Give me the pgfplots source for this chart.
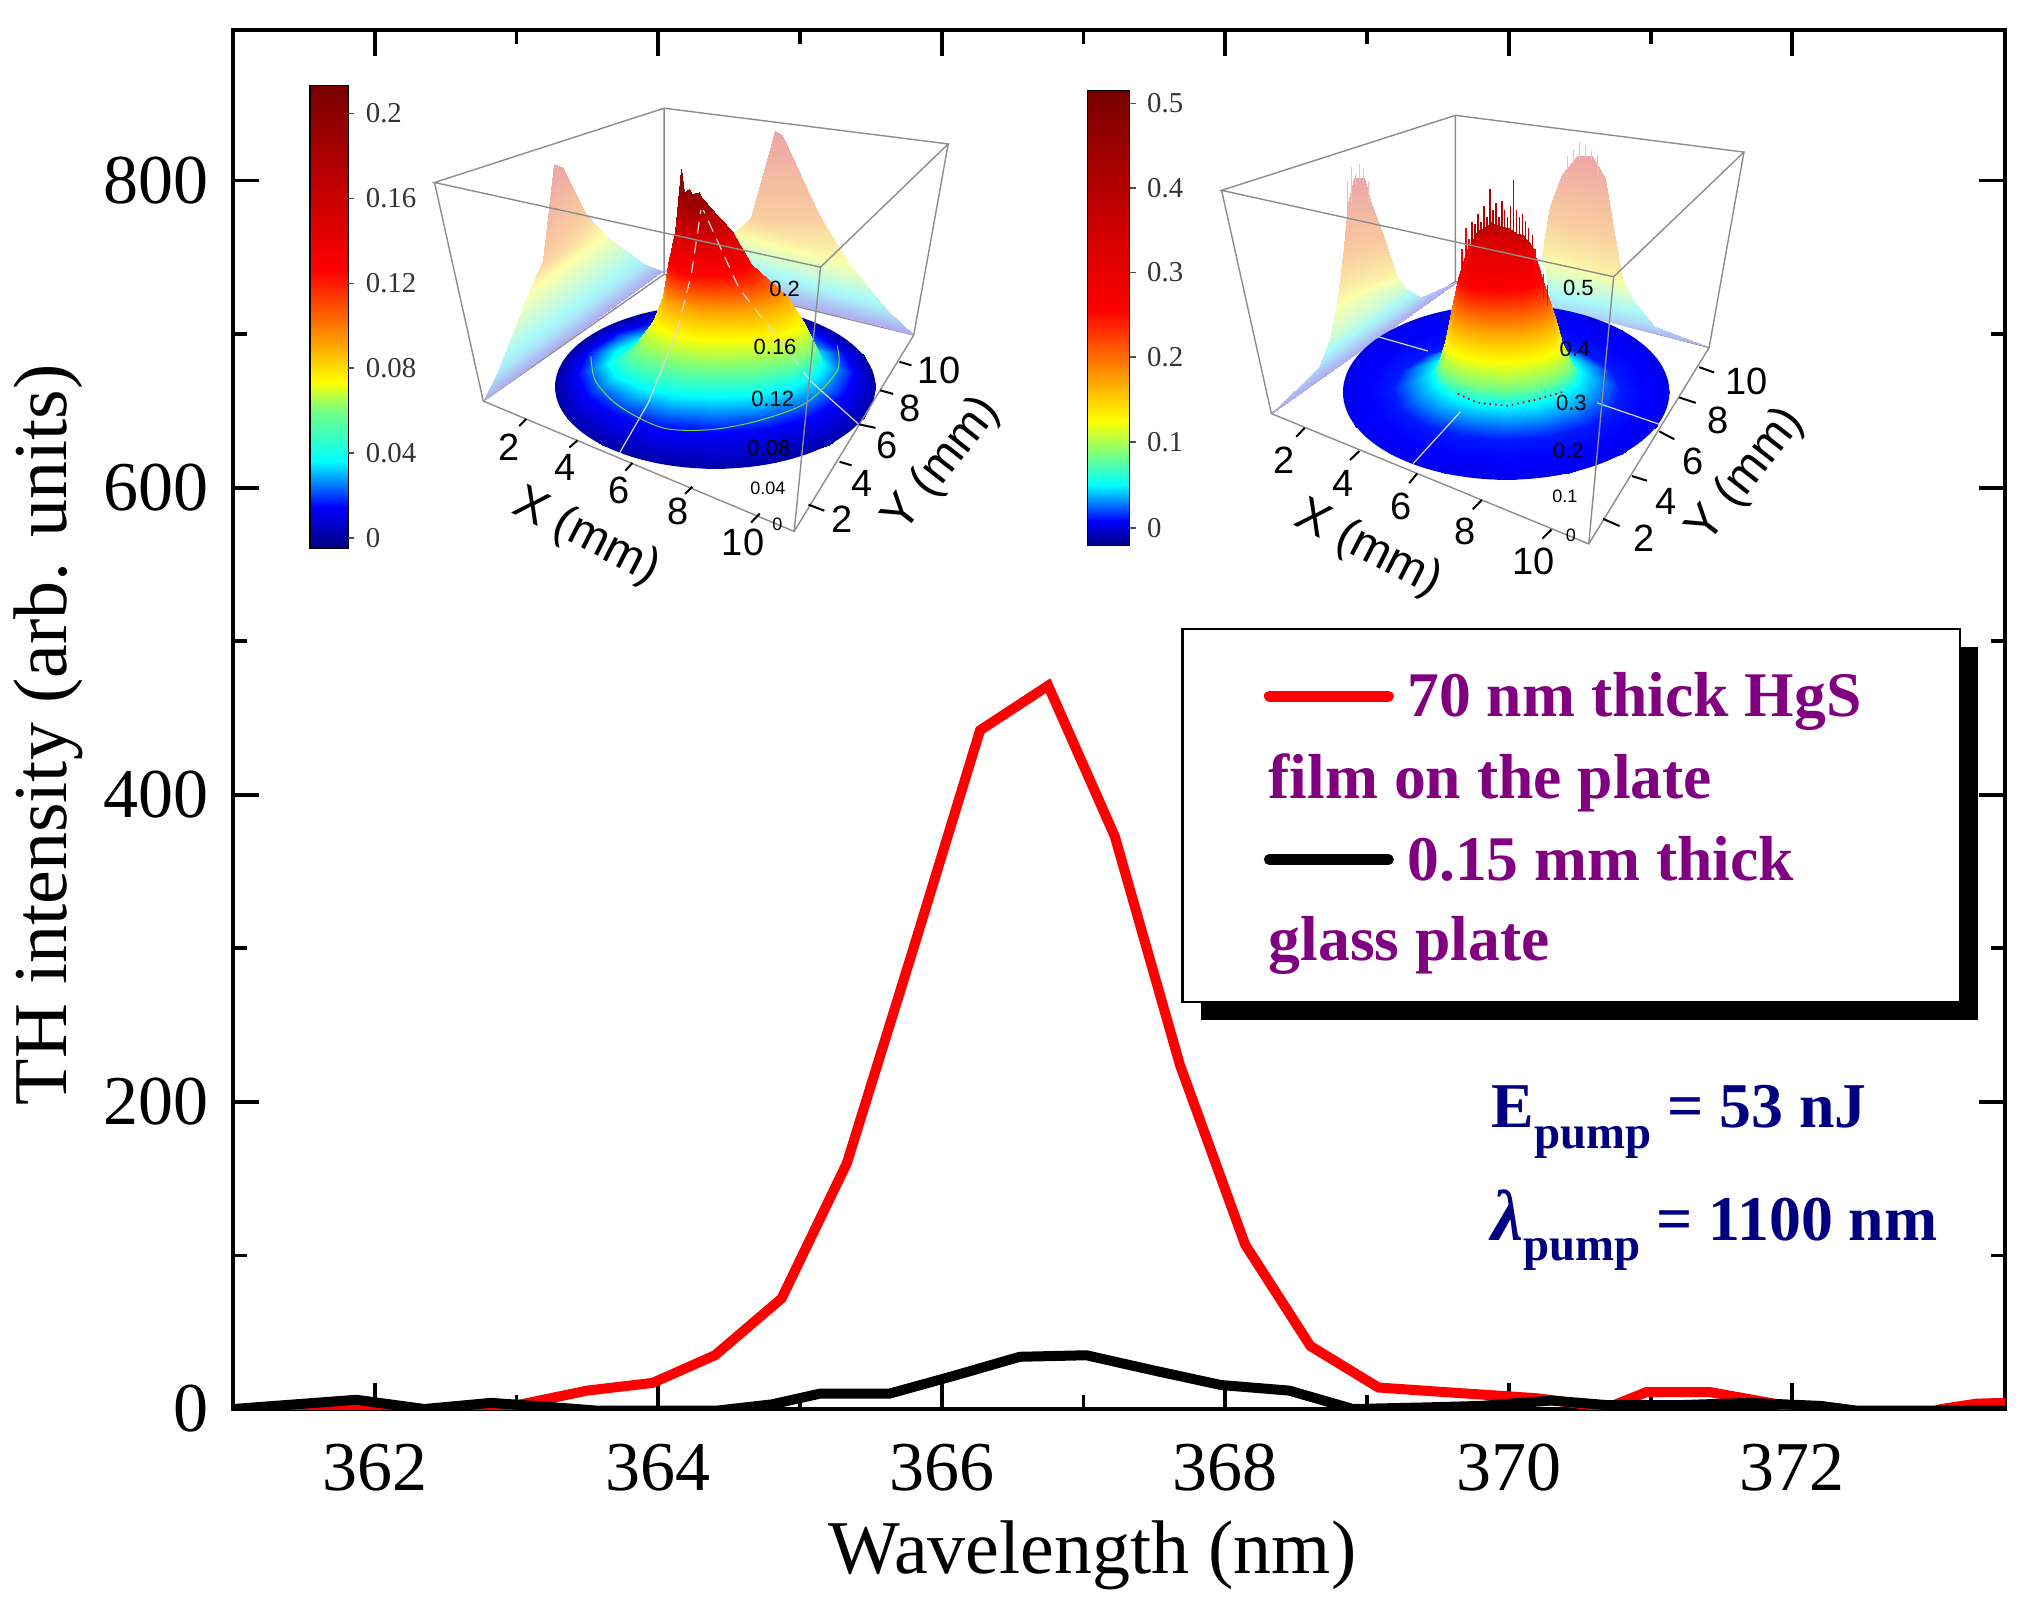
\documentclass[border=0pt]{standalone}
\usepackage{fontspec}
\setmainfont{Liberation Serif}
\newfontfamily\sansf{Liberation Sans}
\usepackage{pgfplots}
\pgfplotsset{compat=1.18}

\definecolor{legpurple}{RGB}{128,0,128}
\definecolor{annnavy}{RGB}{0,0,128}
\definecolor{boxgray}{RGB}{140,140,140}
\definecolor{ringgreen}{RGB}{120,220,60}
\definecolor{paleblush}{RGB}{240,190,190}

\pgfplotsset{
  colormap={jetref}{rgb255(0)=(0,0,128) rgb255(9)=(0,0,255) rgb255(19)=(0,255,255) rgb255(30)=(120,255,130) rgb255(36)=(255,255,0) rgb255(44)=(255,165,0) rgb255(60)=(255,0,0) rgb255(100)=(120,0,0)},
  colormap={jetpale}{rgb255(0)=(175,170,240) rgb255(25)=(170,250,250) rgb255(50)=(250,255,170) rgb255(70)=(250,205,160) rgb255(100)=(235,165,165)},
  inset/.style={scale only axis, hide axis, clip=false, xmin=0, xmax=1568, ymin=0, ymax=1568, y dir=reverse,
    height=140pt, point meta min=0, point meta max=100, anchor=south west},
  skin/.style={surf, shader=interp, point meta=explicit, colormap name=jetref},
  wall/.style={surf, shader=interp, point meta=explicit, colormap name=jetpale, mesh/cols=2},
}
\tikzset{gridline/.style={boxgray, line width=0.35pt}}
\newcommand{\numlab}[3]{\node[font=\sansf\fontsize{9.5}{9.5}\selectfont] at (axis cs:#1,#2) {#3};}
\newcommand{\zlab}[4]{\node[font=\sansf\fontsize{#4}{#4}\selectfont] at (axis cs:#1,#2) {#3};}
\newcommand{\barlab}[3]{\node[anchor=west,font=\fontsize{7.2}{7.2}\selectfont,text=black!80] at (axis cs:#1,#2) {#3};}

\begin{document}
\begin{tikzpicture}
\useasboundingbox (-58.25pt,-49.25pt) rectangle (449.75pt,352.25pt);

% main spectrum
\begin{axis}[at={(0,0)}, anchor=south west, scale only axis, width=443pt, height=344.75pt,
  xmin=361, xmax=373.5, ymin=0, ymax=898,
  xtick={362,364,366,368,370,372}, ytick={0,200,400,600,800},
  minor x tick num=1, minor y tick num=1,
  xtick pos=both, ytick pos=both, yticklabel pos=left, xticklabel pos=bottom,
  tick align=inside, major tick length=6.5pt, minor tick length=3.5pt,
  tick style={black, line width=0.95pt}, axis line style={line width=1.2pt},
  /pgf/number format/assume math mode=true,
  tick label style={font=\fontsize{17.5}{20}\selectfont},
  xticklabel style={yshift=-5.2pt}, yticklabel style={xshift=-2.6pt},
  xlabel={Wavelength (nm)}, ylabel={TH intensity (arb. units)},
  label style={font=\fontsize{19}{22}\selectfont},
  xlabel style={at={(axis description cs:0.485,-0.106)}, anchor=center},
  ylabel style={at={(axis description cs:-0.104,0.489)}, anchor=center}]
\addplot[red, line width=2.5pt] coordinates {
 (361,-5)(361.45,-3)(361.9,1)(362.35,-3)(362.6,1)(363.03,3)(363.5,12)(363.96,17)(364.4,35)(364.87,72)
 (365.33,160)(365.8,300)(366.27,442)(366.75,471)(367.22,373)(367.68,224)(368.14,107)(368.6,41)
 (369.08,14)(369.55,11)(370.2,7)(370.7,1)(370.97,11)(371.42,11)(371.9,3)(372.4,-3)(372.9,-4)(373.05,0)(373.3,3.5)(373.5,4)};
\addplot[black, line width=2.5pt] coordinates {
 (361,0)(361.87,6)(362.35,0)(362.82,4)(363.28,1)(363.56,-1)(364.42,-1)(364.8,3)(365.14,10)(365.63,10)(366.1,22)
 (366.55,34)(367.02,35)(367.5,25)(367.97,15.6)(368.45,12)(368.9,0)(369.4,1)(369.8,2)(370.3,5.5)(370.7,2.5)
 (371.2,2.5)(371.7,4)(372.2,2)(372.45,-1)(373.5,-1)};
\end{axis}

% left inset, coordinates in crop pixels
\begin{axis}[inset, at={(11.75pt,197.25pt)}, width=187.5pt]
\draw[gridline] (axis cs:803,135)--(axis cs:803,600) (axis cs:425,955)--(axis cs:803,600)--(axis cs:1325,770);
\addplot[wall] table[x=x,y=y,meta=c,row sep=\\] {x y c\\
 425 955 0\\ 800 590 0\\ 455 870 20\\ 760 570 20\\ 520 650 50\\ 680 490 50\\ 550 560 70\\ 640 430 70\\ 572 290 100\\ 590 300 100\\};
\addplot[wall] table[x=x,y=y,meta=c,row sep=\\] {x y c\\
 800 590 0\\ 1325 770 0\\ 880 560 20\\ 1270 700 20\\ 945 490 50\\ 1190 570 50\\ 985 440 70\\ 1130 440 70\\ 1035 200 100\\ 1050 210 100\\};
\fill[blue!65!black] (axis cs:910,915) ellipse [x radius=40.06pt, y radius=20.5pt];
\addplot[skin, mesh/cols=17] table[x=x,y=y,meta=c,row sep=\\] {x y c\\
 1245 915 3\\ 1220 1003 3\\ 1147 1078 3\\ 1038 1127 3\\ 910 1145 3\\ 782 1127 3\\ 673 1078 3\\ 600 1003 3\\ 575 915 3\\ 600 827 3\\ 673 752 3\\ 782 703 3\\ 910 685 3\\ 1038 703 3\\ 1147 752 3\\ 1220 827 3\\ 1245 915 3\\
 1200 880 9\\ 1178 943 9\\ 1115 997 9\\ 1021 1032 9\\ 910 1045 9\\ 799 1032 9\\ 705 997 9\\ 642 943 9\\ 620 880 9\\ 642 817 9\\ 705 763 9\\ 799 728 9\\ 910 715 9\\ 1021 728 9\\ 1115 763 9\\ 1178 817 9\\ 1200 880 9\\
 1135 850 19\\ 1118 886 19\\ 1069 917 19\\ 996 938 19\\ 910 945 19\\ 824 938 19\\ 751 917 19\\ 702 886 19\\ 685 850 19\\ 702 814 19\\ 751 783 19\\ 824 762 19\\ 910 755 19\\ 996 762 19\\ 1069 783 19\\ 1118 814 19\\ 1135 850 19\\
 910 850 19\\ 910 850 19\\ 910 850 19\\ 910 850 19\\ 910 850 19\\ 910 850 19\\ 910 850 19\\ 910 850 19\\ 910 850 19\\ 910 850 19\\ 910 850 19\\ 910 850 19\\ 910 850 19\\ 910 850 19\\ 910 850 19\\ 910 850 19\\ 910 850 19\\};
\addplot[skin, mesh/cols=9] table[x=x,y=y,meta=c,row sep=\\] {x y c\\
 685 850 19\\ 702 886 19\\ 751 917 19\\ 824 938 19\\ 910 945 19\\ 996 938 19\\ 1069 917 19\\ 1118 886 19\\ 1135 850 19\\
 740 800 30\\ 754 825 30\\ 796 846 30\\ 857 860 30\\ 930 865 30\\ 1003 860 30\\ 1064 846 30\\ 1106 825 30\\ 1120 800 30\\
 780 730 36\\ 792 751 36\\ 826 769 36\\ 877 781 36\\ 937 785 36\\ 997 781 36\\ 1048 769 36\\ 1082 751 36\\ 1094 730 36\\
 800 660 44\\ 810 677 44\\ 838 692 44\\ 880 702 44\\ 930 705 44\\ 980 702 44\\ 1022 692 44\\ 1050 677 44\\ 1060 660 44\\
 812 570 60\\ 819 582 60\\ 837 593 60\\ 865 600 60\\ 898 602 60\\ 931 600 60\\ 959 593 60\\ 977 582 60\\ 984 570 60\\
 825 480 72\\ 830 488 72\\ 843 494 72\\ 862 498 72\\ 885 500 72\\ 908 498 72\\ 927 494 72\\ 940 488 72\\ 945 480 72\\
 832 395 88\\ 838 403 88\\ 846 408 88\\ 855 412 88\\ 863 413 88\\ 871 412 88\\ 880 408 88\\ 888 403 88\\ 895 405 88\\
 838 305 92\\ 845 370 92\\ 855 360 92\\ 862 375 92\\ 868 372 92\\ 875 370 92\\ 880 385 92\\ 888 395 92\\ 893 402 92\\};
\addplot[white!85!black, line width=0.3pt] coordinates {(710,1100)(770,960)(830,760)};
\addplot[white!85!black, densely dashed, line width=0.3pt] coordinates {(830,760)(860,600)(880,420)};
\addplot[white!85!black, line width=0.3pt] coordinates {(1210,1020)(1110,900)};
\addplot[white!85!black, densely dashed, line width=0.3pt] coordinates {(1110,900)(1030,760)(960,640)(885,420)};
\addplot[ringgreen, line width=0.25pt, smooth] coordinates {(650,830)(660,900)(710,970)(800,1030)(900,1035)(1000,1010)(1100,960)(1165,870)(1165,800)};
\draw[gridline] (axis cs:323,343)--(axis cs:803,135)--(axis cs:1397,235)--(axis cs:1130,580)--cycle
  (axis cs:323,343)--(axis cs:425,955)--(axis cs:1075,1320)--(axis cs:1325,770)--(axis cs:1397,235)
  (axis cs:1130,580)--(axis cs:1075,1320);
\draw[black, line width=0.5pt] (axis cs:500,1025)--(axis cs:515,1005) (axis cs:605,1085)--(axis cs:622,1065) (axis cs:722,1150)--(axis cs:737,1128) (axis cs:847,1215)--(axis cs:862,1195) (axis cs:985,1295)--(axis cs:1003,1270)
 (axis cs:1105,1245)--(axis cs:1138,1262) (axis cs:1170,1125)--(axis cs:1195,1135) (axis cs:1210,1020)--(axis cs:1245,1030) (axis cs:1255,925)--(axis cs:1282,935) (axis cs:1295,845)--(axis cs:1320,855);
\numlab{478}{1085}{2}\numlab{595}{1140}{4}\numlab{708}{1205}{6}\numlab{832}{1265}{8}\numlab{968}{1350}{10}
\numlab{1175}{1285}{2}\numlab{1217}{1185}{4}\numlab{1270}{1080}{6}\numlab{1318}{975}{8}\numlab{1378}{870}{10}
\node[rotate=-27,font=\sansf\fontsize{12}{12}\selectfont] at (axis cs:640,1335) {X (mm)};
\node[rotate=52,font=\sansf\fontsize{12}{12}\selectfont] at (axis cs:1385,1135) {Y (mm)};
\zlab{1055}{640}{0.2}{5.5}\zlab{1035}{803}{0.16}{5.5}\zlab{1030}{948}{0.12}{5.5}\zlab{1022}{1085}{0.08}{5.5}\zlab{1020}{1200}{0.04}{4.5}\zlab{1040}{1300}{0}{4.5}
% colour bar
\addplot[skin, mesh/cols=2] table[x=x,y=y,meta=c,row sep=\\] {x y c\\
 63 1368 0\\ 143 1368 0\\ 63 1251 9\\ 143 1251 9\\ 63 1122 19\\ 143 1122 19\\ 63 979 30\\ 143 979 30\\ 63 901 36\\ 143 901 36\\ 63 798 44\\ 143 798 44\\ 63 590 60\\ 143 590 60\\ 63 72 100\\ 143 72 100\\};
\draw[black, line width=0.35pt] (axis cs:63,72) rectangle (axis cs:143,1368);
\draw[black!70, line width=0.35pt] (axis cs:143,150)--(axis cs:155,150) (axis cs:143,388)--(axis cs:155,388) (axis cs:143,625)--(axis cs:155,625) (axis cs:143,862)--(axis cs:155,862) (axis cs:143,1100)--(axis cs:155,1100) (axis cs:143,1338)--(axis cs:155,1338);
\barlab{150}{150}{0.2}\barlab{150}{388}{0.16}\barlab{150}{625}{0.12}\barlab{150}{862}{0.08}\barlab{150}{1100}{0.04}\barlab{150}{1338}{0}
\end{axis}

% right inset
\begin{axis}[inset, at={(204.25pt,197.25pt)}, width=195pt]
\draw[gridline] (axis cs:815,155)--(axis cs:815,620) (axis cs:445,990)--(axis cs:815,620)--(axis cs:1325,805);
\addplot[wall] table[x=x,y=y,meta=c,row sep=\\] {x y c\\
 445 990 0\\ 825 615 0\\ 540 860 15\\ 745 665 15\\ 562 780 35\\ 715 640 35\\ 578 660 55\\ 695 600 55\\ 590 520 75\\ 670 490 75\\ 600 400 90\\ 645 400 90\\ 612 330 100\\ 632 330 100\\};
\addplot[wall] table[x=x,y=y,meta=c,row sep=\\] {x y c\\
 825 615 0\\ 1325 805 0\\ 1000 690 15\\ 1215 745 15\\ 1000 620 35\\ 1170 670 35\\ 990 540 55\\ 1150 610 55\\ 1005 410 75\\ 1130 450 75\\ 1030 320 90\\ 1115 330 90\\ 1060 270 100\\ 1090 270 100\\};
\addplot[paleblush, line width=0.3pt, unbounded coords=jump] coordinates {
 (598,420)(598,340)(606,nan)(606,400)(606,300)(614,nan)(614,350)(614,320)(622,nan)(622,340)(622,290)(630,nan)(630,340)(630,305)(640,nan)(640,400)(640,340)(1040,nan)
 (1040,310)(1040,270)(1052,nan)(1052,290)(1052,250)(1064,nan)(1064,280)(1064,230)(1076,nan)(1076,280)(1076,240)(1088,nan)(1088,280)(1088,255)(1100,nan)(1100,320)(1100,265)};
\fill[blue!85!black] (axis cs:917,930) ellipse [x radius=40.8pt, y radius=21.9pt];
\addplot[skin, mesh/cols=17] table[x=x,y=y,meta=c,row sep=\\] {x y c\\
 1245 930 8\\ 1220 1024 8\\ 1149 1103 8\\ 1043 1156 8\\ 917 1175 8\\ 791 1156 8\\ 685 1103 8\\ 614 1024 8\\ 589 930 8\\ 614 836 8\\ 685 757 8\\ 791 704 8\\ 917 685 8\\ 1043 704 8\\ 1149 757 8\\ 1220 836 8\\ 1245 930 8\\
 1147 925 10\\ 1129 979 10\\ 1080 1024 10\\ 1005 1054 10\\ 917 1065 10\\ 829 1054 10\\ 754 1024 10\\ 705 979 10\\ 687 925 10\\ 705 871 10\\ 754 826 10\\ 829 796 10\\ 917 785 10\\ 1005 796 10\\ 1080 826 10\\ 1129 871 10\\ 1147 925 10\\
 1067 880 19\\ 1056 914 19\\ 1023 944 19\\ 974 963 19\\ 917 970 19\\ 860 963 19\\ 811 944 19\\ 778 914 19\\ 767 880 19\\ 778 846 19\\ 811 816 19\\ 860 797 19\\ 917 790 19\\ 974 797 19\\ 1023 816 19\\ 1056 846 19\\ 1067 880 19\\
 917 880 19\\ 917 880 19\\ 917 880 19\\ 917 880 19\\ 917 880 19\\ 917 880 19\\ 917 880 19\\ 917 880 19\\ 917 880 19\\ 917 880 19\\ 917 880 19\\ 917 880 19\\ 917 880 19\\ 917 880 19\\ 917 880 19\\ 917 880 19\\ 917 880 19\\};
\addplot[skin, mesh/cols=9] table[x=x,y=y,meta=c,row sep=\\] {x y c\\
 767 880 19\\ 778 914 19\\ 811 944 19\\ 860 963 19\\ 917 970 19\\ 974 963 19\\ 1023 944 19\\ 1056 914 19\\ 1067 880 19\\
 780 850 30\\ 790 877 30\\ 820 899 30\\ 863 915 30\\ 915 920 30\\ 967 915 30\\ 1010 899 30\\ 1040 877 30\\ 1050 850 30\\
 794 790 36\\ 803 811 36\\ 829 829 36\\ 867 841 36\\ 912 845 36\\ 957 841 36\\ 995 829 36\\ 1021 811 36\\ 1030 790 36\\
 805 720 44\\ 813 737 44\\ 836 752 44\\ 870 762 44\\ 910 765 44\\ 950 762 44\\ 984 752 44\\ 1007 737 44\\ 1015 720 44\\
 820 610 60\\ 827 623 60\\ 845 635 60\\ 873 642 60\\ 905 645 60\\ 937 642 60\\ 965 635 60\\ 984 623 60\\ 990 610 60\\
 840 525 68\\ 845 530 68\\ 858 537 68\\ 880 542 68\\ 905 545 68\\ 930 542 68\\ 950 537 68\\ 962 530 68\\ 968 520 68\\
 850 500 76\\ 858 480 76\\ 872 470 76\\ 886 455 76\\ 905 465 76\\ 922 470 76\\ 937 485 76\\ 950 490 76\\ 958 505 76\\};
% noisy spikes on the top of the peak
\addplot[red!70!black, line width=0.4pt, unbounded coords=jump] coordinates {
 (848,520)(848,455)(854,nan)(854,510)(854,460)(860,nan)(860,490)(860,430)(866,nan)(866,490)(866,455)(872,nan)(872,490)(872,410)(878,nan)(878,480)(878,440)(884,nan)(884,480)(884,360)(890,nan)(890,480)(890,420)(896,nan)(896,490)(896,400)
 (902,nan)(902,480)(902,440)(908,nan)(908,490)(908,395)(914,nan)(914,480)(914,420)(920,nan)(920,490)(920,440)(926,nan)(926,490)(926,410)(932,nan)(932,490)(932,335)(938,nan)(938,500)(938,420)(944,nan)(944,500)(944,440)(950,nan)(950,510)(950,430)(956,nan)(956,510)(956,450)(962,nan)(962,520)(962,470)
 (970,nan)(970,530)(970,490)};
\addplot[red, line width=0.4pt, unbounded coords=jump] coordinates {
 (828,640)(828,530)(836,nan)(836,620)(836,470)(842,nan)(842,560)(842,500)(975,nan)(975,640)(975,530)(982,nan)(982,640)(982,570)(992,nan)(992,670)(992,600)(1000,nan)(1000,690)(1000,630)};
\addplot[white!85!black, line width=0.3pt] coordinates {(730,1130)(825,985)};
\addplot[white!85!black, line width=0.3pt] coordinates {(660,775)(760,815)};
\addplot[white!85!black, line width=0.3pt] coordinates {(1100,960)(1225,1020)};
\addplot[red!80!black, densely dotted, line width=0.4pt] coordinates {(820,935)(860,960)(920,968)(980,950)(1030,930)};
\draw[gridline] (axis cs:345,365)--(axis cs:815,155)--(axis cs:1395,258)--(axis cs:1133,607)--cycle
  (axis cs:345,365)--(axis cs:445,990)--(axis cs:1083,1355)--(axis cs:1325,805)--(axis cs:1395,258)
  (axis cs:1133,607)--(axis cs:1083,1355);
\draw[black, line width=0.5pt] (axis cs:495,1055)--(axis cs:512,1030) (axis cs:603,1120)--(axis cs:622,1095) (axis cs:722,1185)--(axis cs:738,1158) (axis cs:850,1258)--(axis cs:868,1232) (axis cs:990,1340)--(axis cs:1008,1315)
 (axis cs:1112,1285)--(axis cs:1145,1305) (axis cs:1170,1165)--(axis cs:1200,1178) (axis cs:1225,1040)--(axis cs:1255,1062) (axis cs:1265,945)--(axis cs:1298,960) (axis cs:1305,860)--(axis cs:1335,875);
\numlab{470}{1120}{2}\numlab{590}{1185}{4}\numlab{705}{1250}{6}\numlab{835}{1320}{8}\numlab{972}{1405}{10}
\numlab{1195}{1340}{2}\numlab{1238}{1235}{4}\numlab{1292}{1125}{6}\numlab{1342}{1010}{8}\numlab{1400}{900}{10}
\node[rotate=-27,font=\sansf\fontsize{12}{12}\selectfont] at (axis cs:640,1370) {X (mm)};
\node[rotate=52,font=\sansf\fontsize{12}{12}\selectfont] at (axis cs:1400,1165) {Y (mm)};
\zlab{1062}{638}{0.5}{5.5}\zlab{1055}{808}{0.4}{5.5}\zlab{1048}{960}{0.3}{5.5}\zlab{1042}{1095}{0.2}{5.5}\zlab{1035}{1222}{0.1}{4.5}\zlab{1047}{1332}{0}{4.5}
\addplot[skin, mesh/cols=2] table[x=x,y=y,meta=c,row sep=\\] {x y c\\
 75 1360 0\\ 160 1360 0\\ 75 1290 9\\ 160 1290 9\\ 75 1190 19\\ 160 1190 19\\ 75 1105 30\\ 160 1105 30\\ 75 1010 36\\ 160 1010 36\\ 75 900 44\\ 160 900 44\\ 75 700 60\\ 160 700 60\\ 75 85 100\\ 160 85 100\\};
\draw[black, line width=0.35pt] (axis cs:75,85) rectangle (axis cs:160,1360);
\draw[black!70, line width=0.35pt] (axis cs:160,122)--(axis cs:172,122) (axis cs:160,358)--(axis cs:172,358) (axis cs:160,595)--(axis cs:172,595) (axis cs:160,832)--(axis cs:172,832) (axis cs:160,1070)--(axis cs:172,1070) (axis cs:160,1310)--(axis cs:172,1310);
\barlab{167}{122}{0.5}\barlab{167}{358}{0.4}\barlab{167}{595}{0.3}\barlab{167}{832}{0.2}\barlab{167}{1070}{0.1}\barlab{167}{1310}{0}
\end{axis}

% legend box and notes, coordinates in pixels of the shrunk picture
\begin{axis}[at={(0,0)}, anchor=south west, scale only axis, width=443pt, height=344.75pt, hide axis, clip=false,
  xmin=179, xmax=1547, ymin=23, ymax=1087, y dir=reverse]
\fill[black] (axis cs:926,499) rectangle (axis cs:1526,787);
\filldraw[fill=white, draw=black, line width=0.6pt] (axis cs:912,485) rectangle (axis cs:1512,773);
\addplot[red, line width=2.7pt, line cap=round] coordinates {(979,537)(1071,537)};
\addplot[black, line width=2.7pt, line cap=round] coordinates {(979,663)(1071,663)};
\begin{scope}[every node/.style={anchor=base west, inner sep=0pt, text=legpurple, font=\bfseries\fontsize{15.9}{18}\selectfont}]
\node at (axis cs:1085,553) {70 nm thick HgS};
\node at (axis cs:978,616) {film on the plate};
\node at (axis cs:1085,679) {0.15 mm thick};
\node at (axis cs:978,741) {glass plate};
\end{scope}
\begin{scope}[every node/.style={anchor=base west, inner sep=0pt, text=annnavy, font=\bfseries\fontsize{15.95}{18}\selectfont}]
\node at (axis cs:1150,870) {E\raisebox{-0.32em}{\fontsize{11.7}{13}\selectfont pump} = 53 nJ};
\node at (axis cs:1150,957) {{\fontsize{18}{18}\selectfont\textit{λ}}\raisebox{-0.32em}{\fontsize{11.7}{13}\selectfont pump} = 1100 nm};
\end{scope}
\end{axis}
\end{tikzpicture}
\end{document}
